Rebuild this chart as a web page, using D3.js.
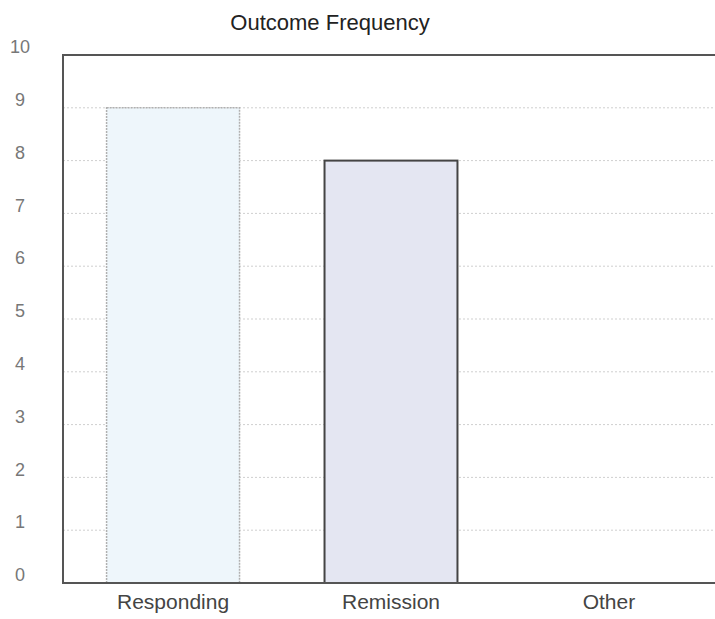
<!DOCTYPE html>
<html><head><meta charset="utf-8">
<script src="https://cdn.jsdelivr.net/npm/d3@7"></script>
<style>body{margin:0;background:#fff}svg{display:block}</style>
</head><body>
<script>
const categories = ["Responding", "Remission", "Other"];
const values = [9, 8, 0];
const yTicks = [0,1,2,3,4,5,6,7,8,9,10];
const title = "Outcome Frequency";

const W = 715, H = 619;
const m = {left: 63, top: 55, right: -4, bottom: 36};
const svg = d3.select("body").append("svg").attr("width", W).attr("height", H);
const x = d3.scaleBand().domain(categories).range([m.left, W - m.right]).paddingInner(0.39).paddingOuter(0.2);
const y = d3.scaleLinear().domain([0, 10]).range([H - m.bottom, m.top]);

// grid
svg.append("g").selectAll("line").data(yTicks.filter(d => d > 0 && d < 10)).join("line")
  .attr("x1", m.left).attr("x2", W).attr("y1", d => y(d)).attr("y2", d => y(d))
  .attr("stroke", "#cfcfcf").attr("stroke-width", 1).attr("stroke-dasharray", "2,2");

const fills = ["#eef6fb", "#e4e6f2", "#f0f0f0"];
const strokes = ["#b0b0b0", "#444", "#555"];
svg.append("g").selectAll("rect").data(values).join("rect")
  .attr("x", (d, i) => x(categories[i])).attr("width", x.bandwidth())
  .attr("y", d => y(d)).attr("height", d => y(0) - y(d))
  .attr("fill", (d, i) => fills[i]).attr("stroke", (d, i) => strokes[i])
  .attr("stroke-width", (d, i) => i === 1 ? 2 : 1.5)
  .attr("stroke-dasharray", (d, i) => i === 0 ? "2,1" : null);

// frame
svg.append("path")
  .attr("d", `M${W},${y(10)}H${m.left}V${y(0)}H${W}`)
  .attr("fill", "none").attr("stroke", "#555").attr("stroke-width", 2);

// y axis labels
const yAxis = d3.axisLeft(y).tickValues(yTicks).tickSize(0).tickPadding(0).tickFormat(d3.format("d"));
const ga = svg.append("g").attr("transform", `translate(20,-8)`).call(yAxis);
ga.select(".domain").remove();
ga.selectAll("text").attr("text-anchor", "middle")
  .attr("font-family", "Arial, Liberation Sans, sans-serif").attr("font-size", 18).attr("fill", "#777");

// x axis labels
const xAxis = d3.axisBottom(x).tickSize(0).tickPadding(0);
const gx = svg.append("g").attr("transform", `translate(0,${y(0) + 11})`).call(xAxis);
gx.select(".domain").remove();
gx.selectAll("text").attr("font-family", "Arial, Liberation Sans, sans-serif").attr("font-size", 21).attr("fill", "#444");

svg.append("text").attr("x", 330).attr("y", 30).attr("text-anchor", "middle")
  .attr("font-family", "Arial, Liberation Sans, sans-serif").attr("font-size", 22).attr("fill", "#222")
  .text(title);
</script>
</body></html>
